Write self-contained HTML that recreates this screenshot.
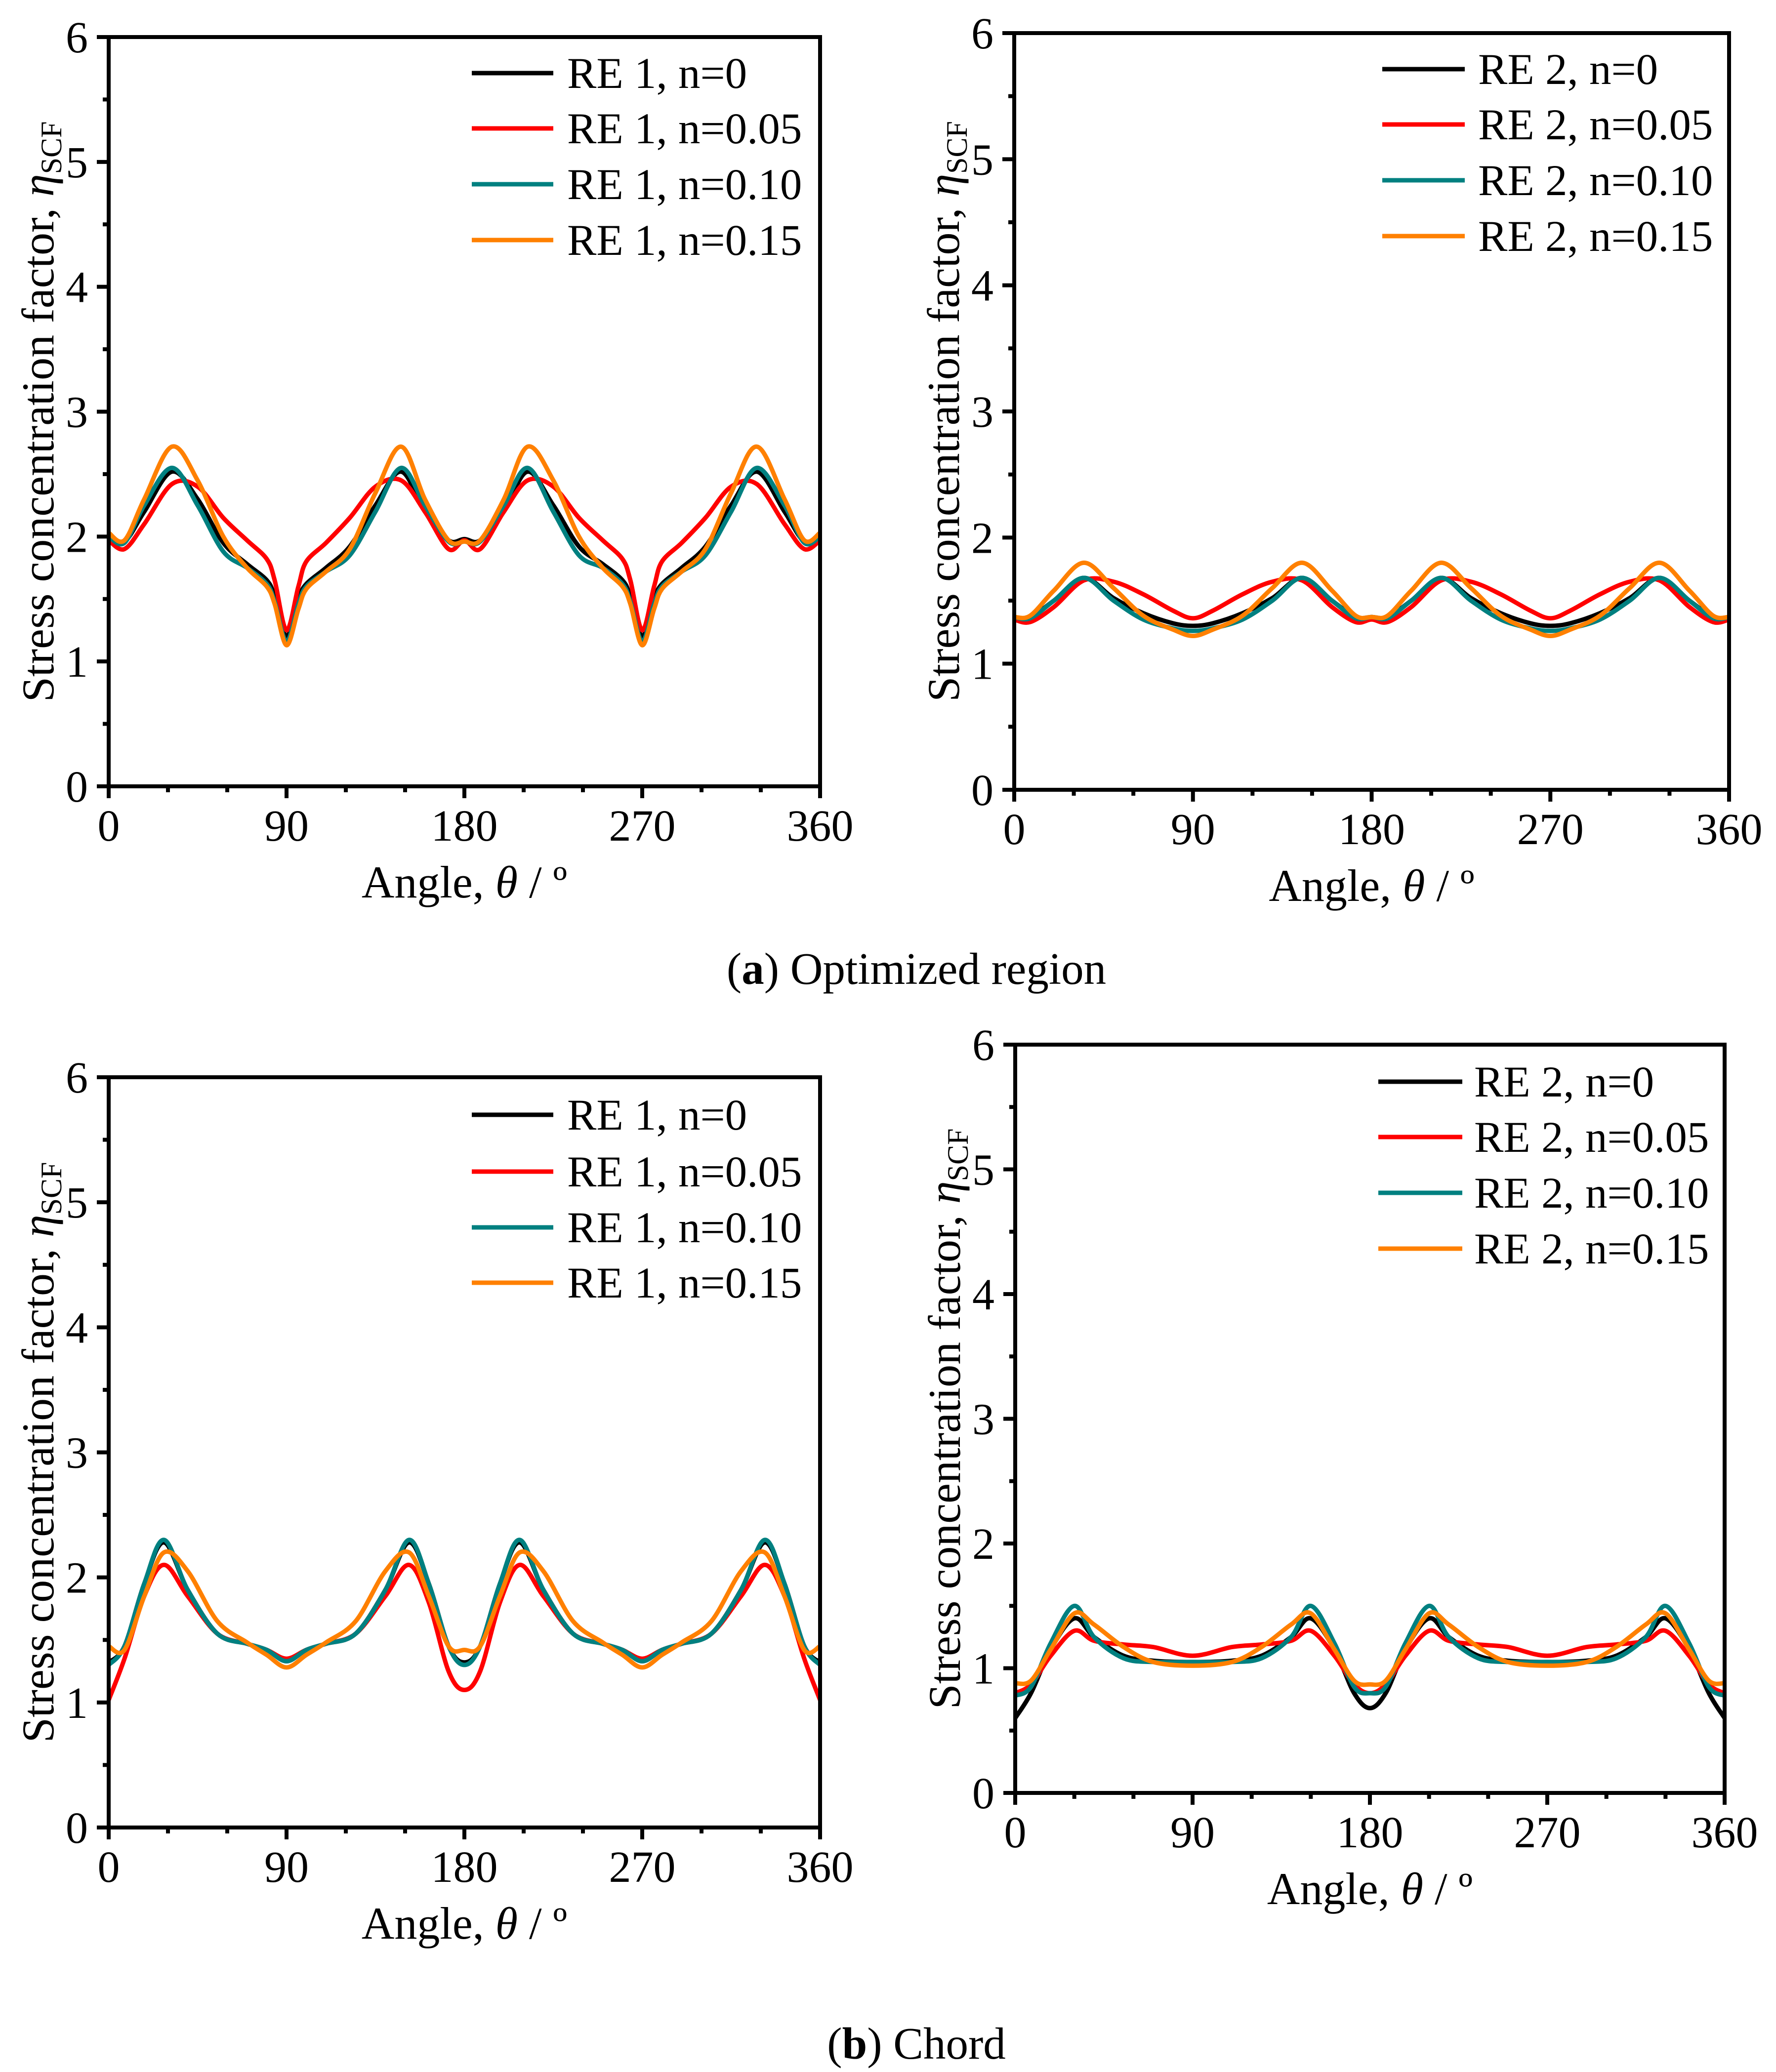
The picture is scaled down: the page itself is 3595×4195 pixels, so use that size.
<!DOCTYPE html>
<html><head><meta charset="utf-8"><style>
html,body{margin:0;padding:0;background:#fff}
svg{display:block}
text{font-family:"Liberation Serif",serif;fill:#000}
</style></head><body>
<svg id="fig" xmlns="http://www.w3.org/2000/svg" width="3595" height="4195" viewBox="0 0 3595 4195">
<rect width="3595" height="4195" fill="#fff"/>
<text x="1855" y="1992" font-size="91" text-anchor="middle">(<tspan font-weight="bold">a</tspan>) Optimized region</text>
<text x="1855" y="4168" font-size="91" text-anchor="middle">(<tspan font-weight="bold">b</tspan>) Chord</text>
</svg>
<script>
const xTicks=[0,90,180,270,360];
const yTicks=[0,1,2,3,4,5,6];
const colors=['#000000','#ff0000','#008080','#ff8000'];
const nLabels=['n=0','n=0.05','n=0.10','n=0.15'];

// Panel A-left (RE 1, optimized region)
const angA1=[0,8,18,32,45,58,70,80,84,90,96,100,110,122,135,148,160,172,180,188,200,212,225,238,250,260,264,270,276,280,290,302,315,328,342,352,360];
const a1n0=[2.02,1.96,2.2,2.52,2.3,1.95,1.78,1.65,1.52,1.2,1.5,1.62,1.75,1.92,2.25,2.52,2.2,1.97,1.98,1.97,2.2,2.52,2.25,1.92,1.78,1.65,1.52,1.2,1.5,1.62,1.75,1.92,2.25,2.52,2.2,1.96,2.02];
const a1n05=[1.97,1.9,2.1,2.42,2.4,2.15,1.97,1.82,1.65,1.25,1.6,1.8,1.95,2.15,2.4,2.45,2.2,1.9,1.97,1.9,2.2,2.45,2.4,2.15,1.97,1.82,1.65,1.25,1.6,1.8,1.95,2.15,2.4,2.42,2.1,1.9,1.97];
const a1n10=[2.0,1.95,2.25,2.55,2.25,1.88,1.75,1.62,1.48,1.16,1.46,1.6,1.72,1.85,2.2,2.55,2.25,1.96,1.96,1.96,2.25,2.55,2.2,1.85,1.75,1.62,1.48,1.16,1.46,1.6,1.72,1.85,2.2,2.55,2.25,1.95,2.0];
const a1n15=[2.03,1.97,2.3,2.72,2.45,2.0,1.75,1.6,1.46,1.13,1.42,1.58,1.72,1.9,2.35,2.72,2.3,1.97,1.96,1.97,2.3,2.72,2.45,2.0,1.75,1.6,1.46,1.13,1.42,1.58,1.72,1.9,2.35,2.72,2.3,1.97,2.03];

// Panel A-right (RE 2, optimized region)
const angA2=[0,8,20,35,50,65,80,90,100,115,130,145,160,172,180,188,200,215,230,245,260,270,280,295,310,325,340,352,360];
const a2n0=[1.37,1.37,1.5,1.68,1.52,1.4,1.32,1.3,1.32,1.4,1.52,1.68,1.5,1.37,1.37,1.37,1.5,1.68,1.52,1.4,1.32,1.3,1.32,1.4,1.52,1.68,1.5,1.37,1.37];
const a2n05=[1.35,1.33,1.45,1.66,1.65,1.55,1.42,1.36,1.42,1.55,1.65,1.66,1.45,1.33,1.35,1.33,1.45,1.66,1.65,1.55,1.42,1.36,1.42,1.55,1.65,1.66,1.45,1.33,1.35];
const a2n10=[1.37,1.36,1.5,1.68,1.5,1.35,1.28,1.26,1.28,1.35,1.5,1.68,1.5,1.36,1.37,1.36,1.5,1.68,1.5,1.35,1.28,1.26,1.28,1.35,1.5,1.68,1.5,1.36,1.37];
const a2n15=[1.37,1.38,1.58,1.8,1.6,1.38,1.27,1.22,1.27,1.38,1.6,1.8,1.58,1.38,1.37,1.38,1.58,1.8,1.6,1.38,1.27,1.22,1.27,1.38,1.6,1.8,1.58,1.38,1.37];

// Panel B-left (RE 1, chord)
const angB1=[0,8,18,28,40,55,70,80,90,100,110,125,140,152,162,172,180,188,198,208,220,235,250,260,270,280,290,305,320,332,342,352,360];
const b1n0=[1.32,1.45,1.95,2.28,1.9,1.55,1.47,1.42,1.33,1.42,1.47,1.55,1.9,2.28,1.95,1.45,1.32,1.45,1.95,2.28,1.9,1.55,1.47,1.42,1.33,1.42,1.47,1.55,1.9,2.28,1.95,1.45,1.32];
const b1n05=[1.02,1.35,1.85,2.1,1.85,1.55,1.47,1.42,1.35,1.42,1.47,1.55,1.85,2.1,1.8,1.25,1.1,1.25,1.8,2.1,1.85,1.55,1.47,1.42,1.35,1.42,1.47,1.55,1.85,2.1,1.85,1.35,1.02];
const b1n10=[1.3,1.45,1.95,2.3,1.9,1.55,1.47,1.42,1.33,1.42,1.47,1.55,1.9,2.3,1.95,1.45,1.3,1.45,1.95,2.3,1.9,1.55,1.47,1.42,1.33,1.42,1.47,1.55,1.9,2.3,1.95,1.45,1.3];
const b1n15=[1.45,1.42,1.85,2.2,2.05,1.65,1.48,1.38,1.28,1.38,1.48,1.65,2.05,2.2,1.85,1.45,1.42,1.45,1.85,2.2,2.05,1.65,1.48,1.38,1.28,1.38,1.48,1.65,2.05,2.2,1.85,1.42,1.45];

// Panel B-right (RE 2, chord)
const angB2=[0,8,18,30,40,55,70,90,110,125,140,150,162,172,180,188,198,210,220,235,250,270,290,305,320,330,342,352,360];
const b2n0=[0.6,0.8,1.15,1.4,1.25,1.1,1.06,1.05,1.06,1.1,1.25,1.4,1.15,0.8,0.68,0.8,1.15,1.4,1.25,1.1,1.06,1.05,1.06,1.1,1.25,1.4,1.15,0.8,0.6];
const b2n05=[0.8,0.87,1.1,1.3,1.22,1.19,1.17,1.1,1.17,1.19,1.22,1.3,1.1,0.87,0.8,0.87,1.1,1.3,1.22,1.19,1.17,1.1,1.17,1.19,1.22,1.3,1.1,0.87,0.8];
const b2n10=[0.78,0.85,1.2,1.5,1.25,1.08,1.05,1.05,1.05,1.08,1.25,1.5,1.2,0.85,0.8,0.85,1.2,1.5,1.25,1.08,1.05,1.05,1.05,1.08,1.25,1.5,1.2,0.85,0.78];
const b2n15=[0.88,0.9,1.15,1.44,1.35,1.17,1.05,1.02,1.05,1.17,1.35,1.44,1.15,0.9,0.87,0.9,1.15,1.44,1.35,1.17,1.05,1.02,1.05,1.17,1.35,1.44,1.15,0.9,0.88];

const NS='http://www.w3.org/2000/svg';
const svg=document.getElementById('fig');
function mk(tag,attrs,parent){const e=document.createElementNS(NS,tag);for(const k in attrs)e.setAttribute(k,attrs[k]);(parent||svg).appendChild(e);return e;}

function panel(id,L,T,R,B,re,ang,series,leg){
  const g=mk('g',{});
  
  
  const xs=v=>L+(v/360)*(R-L);
  const ys=v=>B-(v/6)*(B-T);
  series.forEach((vals,si)=>{
    const pts=ang.map((a,i)=>[xs(a),ys(vals[i])]);
    let d='M'+pts[0][0].toFixed(1)+' '+pts[0][1].toFixed(1);
    for(let i=0;i<pts.length-1;i++){
      const p0=pts[Math.max(0,i-1)],p1=pts[i],p2=pts[i+1],p3=pts[Math.min(pts.length-1,i+2)];
      const c1=[p1[0]+(p2[0]-p0[0])/6,p1[1]+(p2[1]-p0[1])/6];
      const c2=[p2[0]-(p3[0]-p1[0])/6,p2[1]-(p3[1]-p1[1])/6];
      d+=' C'+c1[0].toFixed(1)+' '+c1[1].toFixed(1)+' '+c2[0].toFixed(1)+' '+c2[1].toFixed(1)+' '+p2[0].toFixed(1)+' '+p2[1].toFixed(1);
    }
    const p=mk('path',{d:d,fill:'none',stroke:colors[si],'stroke-width':9,'stroke-linejoin':'round'},g);
    
    
  });
  const fr=mk('rect',{x:L,y:T,width:R-L,height:B-T,fill:'none',stroke:'#000','stroke-width':8},g);
  
  
  for(let a=0;a<=360;a+=30){
    const major=a%90===0;
    const t=mk('line',{x1:xs(a),x2:xs(a),y1:B,y2:B+(major?24:12),stroke:'#000','stroke-width':8},g);
    
    
  }
  xTicks.forEach(a=>{
    const t=mk('text',{x:xs(a),y:B+110,'font-size':90,'text-anchor':'middle'},g);
    t.textContent=a;
    
    
  });
  for(let v=0;v<=6;v+=0.5){
    const major=v%1===0;
    const t=mk('line',{x1:L,x2:L-(major?24:12),y1:ys(v),y2:ys(v),stroke:'#000','stroke-width':8},g);
    
    
  }
  yTicks.forEach(v=>{
    const t=mk('text',{x:L-42,y:ys(v)+31,'font-size':90,'text-anchor':'end'},g);
    t.textContent=v;
    
    
  });
  const xt=mk('text',{x:(L+R)/2,y:B+225,'font-size':92,'text-anchor':'middle'},g);
  xt.innerHTML='Angle, <tspan font-style="italic">θ</tspan> / º';
  
  
  const cy=(T+B)/2;
  const yt=mk('text',{x:0,y:0,'font-size':92,'text-anchor':'middle',transform:'translate('+(L-112)+','+cy+') rotate(-90)'},g);
  yt.innerHTML='Stress concentration factor, <tspan font-style="italic">η</tspan><tspan font-size="60" dy="16">SCF</tspan>';
  
  
  leg.rows.forEach((ry,i)=>{
    const ln=mk('line',{x1:leg.x1,x2:leg.x2,y1:ry,y2:ry,stroke:colors[i],'stroke-width':9},g);
    
    
    const tx=mk('text',{x:leg.tx,y:ry+30,'font-size':89},g);
    tx.textContent=re+', '+nLabels[i];
    
    
  });
}

panel('panel-a-re1',220,75,1660,1592,'RE 1',angA1,[a1n0,a1n05,a1n10,a1n15],{x1:955,x2:1120,tx:1148,rows:[148,260,373,486]});
panel('panel-a-re2',2053,67,3500,1599,'RE 2',angA2,[a2n0,a2n05,a2n10,a2n15],{x1:2798,x2:2965,tx:2992,rows:[140,252,365,478]});
panel('panel-b-re1',220,2181,1660,3700,'RE 1',angB1,[b1n0,b1n05,b1n10,b1n15],{x1:955,x2:1120,tx:1148,rows:[2257,2372,2485,2597]});
panel('panel-b-re2',2055,2115,3491,3630,'RE 2',angB2,[b2n0,b2n05,b2n10,b2n15],{x1:2790,x2:2960,tx:2984,rows:[2190,2302,2415,2528]});
</script>
</body></html>
